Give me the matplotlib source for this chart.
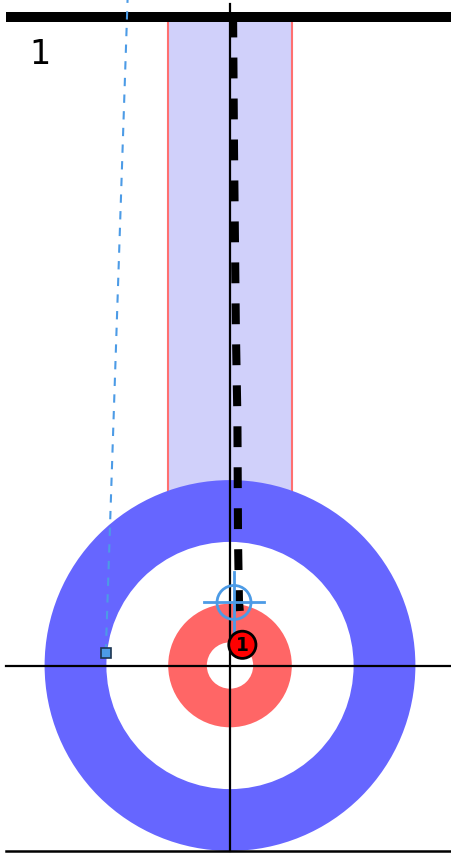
import matplotlib
matplotlib.use("Agg")
import matplotlib.pyplot as plt
from matplotlib.patches import Circle, Rectangle

# Geometry of the sheet (feet, tee = origin)
hog_line_y = 21.0
back_line_y = -6.0
sheet_half_width = 7.25
center_line_top = 21.4
house_radii = [6.0, 4.0, 2.0, 0.75]
house_colors = ["#6666ff", "#ffffff", "#ff6666", "#ffffff"]
corridor_half_width = 2.0

# Stone path (x, y in feet)
path_x = [0.10, 0.13, 0.19, 0.24, 0.26, 0.29, 0.40]
path_y = [21.0, 16.7, 10.87, 7.95, 4.05, 2.1, 0.67]
stone_pos = (0.40, 0.67)
stone_label = "1"

# Aim target (crosshair) and skip marker with line of delivery
target_pos = (0.13, 2.04)
marker_pos = (-4.02, 0.42)
marker_line_end = (-3.30, 22.0)
end_label = "1"

s = 30.9  # px per foot
W, H = 452, 855
fig = plt.figure(figsize=(W / 100, H / 100), dpi=100)
ax = fig.add_axes([0, 0, 1, 1])
ax.set_xlim(-230 / s, (W - 230) / s)
ax.set_ylim(-(H - 665.5) / s, 665.5 / s)
ax.set_aspect("equal")
ax.axis("off")

# Corridor band
ax.add_patch(Rectangle((-corridor_half_width, 0), 2 * corridor_half_width, hog_line_y,
                       facecolor="#d0d0fa", edgecolor="#ff7070", lw=1.5, zorder=1))

# House
for r, c in zip(house_radii, house_colors):
    ax.add_patch(Circle((0, 0), r, facecolor=c, edgecolor="none", zorder=2))

# Lines
ax.plot([-sheet_half_width, sheet_half_width + 1], [hog_line_y, hog_line_y], color="black", lw=7.2, solid_capstyle="butt", zorder=3)
ax.plot([-sheet_half_width, sheet_half_width + 1], [0, 0], color="black", lw=1.6, zorder=3)
ax.plot([-sheet_half_width, sheet_half_width + 1], [back_line_y, back_line_y], color="black", lw=1.8, zorder=3)
ax.plot([0, 0], [back_line_y, center_line_top], color="black", lw=1.6, zorder=3)

# Stone path
lw = 5.8
ax.plot(path_x, path_y, color="black", lw=lw, solid_capstyle="butt",
        dash_capstyle="butt", linestyle=(0, (15.0 / lw, 14.5 / lw)), zorder=4)

# Line of delivery and marker
blue = "#4c9be6"
ax.plot([marker_pos[0], marker_line_end[0]], [marker_pos[1], marker_line_end[1]],
        color=blue, lw=1.5, linestyle=(0, (4, 4)), zorder=4)
ax.plot([marker_pos[0]], [marker_pos[1]], marker="s", markersize=7.5,
        markerfacecolor=blue, markeredgecolor="#1d3550", markeredgewidth=1.2, zorder=5)

# Crosshair target
tx, ty = target_pos
ax.add_patch(Circle((tx, ty), 0.55, facecolor="none", edgecolor=blue, lw=2, zorder=5))
ax.plot([tx - 0.97, tx + 0.97], [ty, ty], color=blue, lw=2, zorder=5)
ax.plot([tx, tx], [ty - 0.97, ty + 0.97], color=blue, lw=2, zorder=5)

# Stone
ax.add_patch(Circle(stone_pos, 0.44, facecolor="#ff0000", edgecolor="black", lw=2, zorder=6))
ax.text(stone_pos[0], stone_pos[1] - 0.02, stone_label, ha="center", va="center",
        fontsize=13.5, color="black", fontweight="bold", zorder=7)

# End label
ax.text((40 - 230) / s, (665.5 - 55) / s, end_label, ha="center", va="center",
        fontsize=24, color="black", zorder=7)

fig.savefig("out.png", dpi=100)
